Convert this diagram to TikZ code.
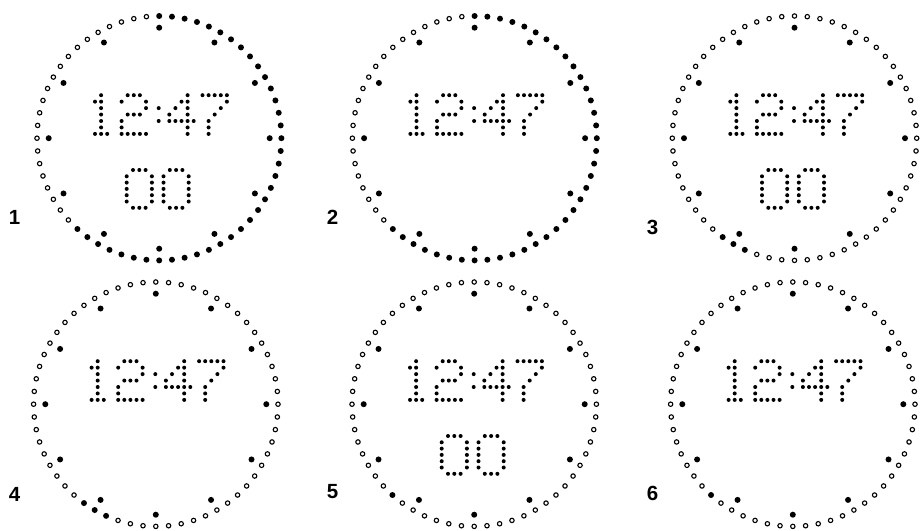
\documentclass[tikz,border=0pt]{standalone}
\usepackage{fontspec}
\setmainfont{Liberation Sans}

% 5x7 dot glyphs, col/row
\def\glyphone{2/0,1/1,2/1,2/2,2/3,2/4,2/5,1/6,2/6,3/6}
\def\glyphtwo{1/0,2/0,3/0,0/1,4/1,4/2,1/3,2/3,3/3,0/4,0/5,0/6,1/6,2/6,3/6,4/6}
\def\glyphfour{3/0,2/1,3/1,1/2,3/2,0/3,3/3,0/4,1/4,2/4,3/4,4/4,3/5,3/6}
\def\glyphseven{0/0,1/0,2/0,3/0,4/0,4/1,3/2,2/3,1/4,1/5,1/6}
\def\glyphzero{1/0,2/0,3/0,0/1,4/1,0/2,4/2,0/3,4/3,0/4,4/4,0/5,4/5,1/6,2/6,3/6}
\def\glyphcolon{0/2,0/4}

\newcommand{\dotglyph}[5]{% x, y, pitch x, pitch y, glyph
  \foreach \gc/\gr in #5 {\fill ({#1+\gc*#3},{#2+\gr*#4}) circle[radius=2pt];}}

\newcommand{\clockface}[5]{% cx, cy, first lit, last lit, seconds
  \foreach \m in {0,...,59}{
    \ifnum\m<#3 \def\lit{0}\else\ifnum\m>#4 \def\lit{0}\else\def\lit{1}\fi\fi
    \ifnum\lit=1
      \fill ({#1+122.2*sin(6*\m)},{#2-122.2*cos(6*\m)}) circle[radius=3pt];
    \else
      \draw[ringoff] ({#1+122.2*sin(6*\m)},{#2-122.2*cos(6*\m)}) circle[radius=2.2pt];
    \fi}
  \foreach \h in {0,...,11}
    \fill ({#1+110.5*sin(30*\h)},{#2-110.5*cos(30*\h)}) circle[radius=3pt];
  \dotglyph{#1-70.3}{#2-43}{6.1}{6.45}{\glyphone}
  \dotglyph{#1-37.6}{#2-43}{6.1}{6.45}{\glyphtwo}
  \dotglyph{#1-0.5}{#2-43}{6.1}{6.45}{\glyphcolon}
  \dotglyph{#1+10.1}{#2-43}{6.1}{6.45}{\glyphfour}
  \dotglyph{#1+43.3}{#2-43}{6.1}{6.45}{\glyphseven}
  \ifnum#5=1
    \dotglyph{#1-32.5}{#2+31.8}{6.3}{6.3}{\glyphzero}
    \dotglyph{#1+4.3}{#2+31.8}{6.3}{6.3}{\glyphzero}
  \fi}

\begin{document}
\begin{tikzpicture}[
  x=1pt, y=-1pt,
  ringoff/.style={draw=black,fill=white,line width=1.1pt},
  tag/.style={inner sep=0pt,font=\fontsize{20.5}{22}\selectfont\bfseries}
]
\useasboundingbox (0,0) rectangle (920,530);

\clockface{159.2}{138.2}{0}{37}{1}
\clockface{474.6}{138.2}{0}{37}{0}
\clockface{794.5}{138.2}{34}{36}{1}
\clockface{155.8}{404.2}{34}{36}{0}
\clockface{474.2}{404.2}{37}{37}{1}
\clockface{792.8}{404.2}{37}{37}{0}

\node[tag] (tag1) at (14.5,217) {1};
\node[tag] (tag2) at (332.5,217) {2};
\node[tag] (tag3) at (652.5,227.5) {3};
\node[tag] (tag4) at (14.5,494.5) {4};
\node[tag] (tag5) at (332.5,492) {5};
\node[tag] (tag6) at (652.5,493) {6};
\end{tikzpicture}
\end{document}
